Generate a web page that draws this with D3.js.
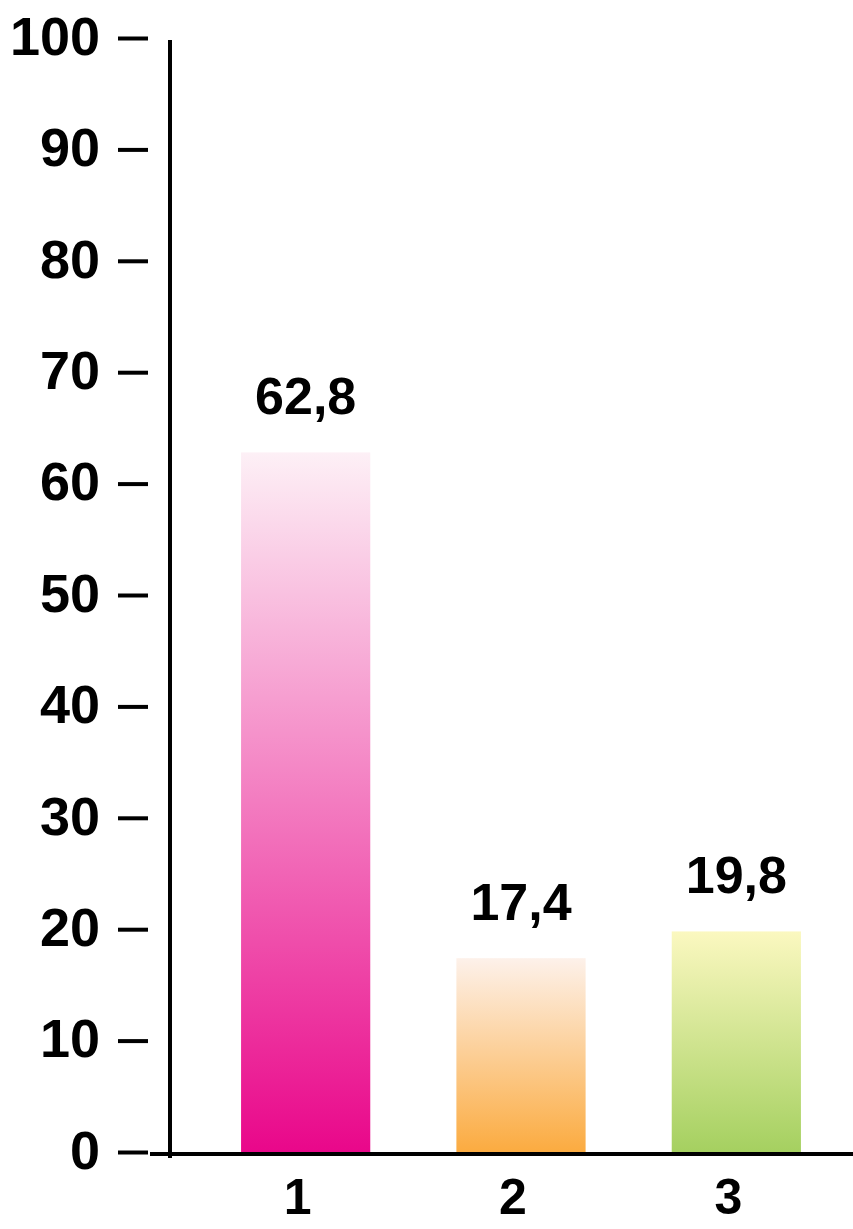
<!DOCTYPE html>
<html>
<head>
<meta charset="utf-8">
<style>
  body { margin: 0; background: #fff; }
  text { font-family: "Liberation Sans", Arial, sans-serif; font-weight: bold; fill: #000; }
</style>
</head>
<body>
<script src="https://d3js.org/d3.v7.min.js"></script>
<svg id="chart" width="853" height="1229"></svg>
<script>
    var categories = ["1", "2", "3"];
    var values = [62.8, 17.4, 19.8];
    var valueLabels = ["62,8", "17,4", "19,8"];
    var yTicks = [0, 10, 20, 30, 40, 50, 60, 70, 80, 90, 100];
    var topColors = ["#fdf0f6", "#fdf1ea", "#fbf8c0"];
    var bottomColors = ["#e9078a", "#fbab40", "#a5d060"];

    var svg = d3.select("#chart");

    var yScale = d3.scaleLinear().domain([0, 100]).range([1152, 38]);
    var xScale = d3.scaleBand().domain(categories).range([170, 872])
        .paddingInner(0.4).paddingOuter(0.33);

    // gradients, light at top, saturated at bottom
    var defs = svg.append("defs");
    categories.forEach(function(c, i) {
        var g = defs.append("linearGradient").attr("id", "grad" + i)
            .attr("x1", 0).attr("y1", 0).attr("x2", 0).attr("y2", 1);
        g.append("stop").attr("offset", "0%").attr("stop-color", topColors[i]);
        g.append("stop").attr("offset", "100%").attr("stop-color", bottomColors[i]);
    });

    svg.selectAll("rect.bar")
        .data(values)
        .enter().append("rect")
        .attr("class", "bar")
        .attr("x", (d, i) => xScale(categories[i]))
        .attr("width", xScale.bandwidth())
        .attr("y", d => yScale(d))
        .attr("height", d => yScale(0) - yScale(d))
        .style("fill", (d, i) => "url(#grad" + i + ")");

    svg.selectAll("text.val")
        .data(values)
        .enter().append("text")
        .attr("class", "val")
        .attr("x", (d, i) => xScale(categories[i]) + xScale.bandwidth() / 2)
        .attr("y", d => yScale(d) - 38)
        .attr("text-anchor", "middle")
        .style("font-size", "52px")
        .text((d, i) => valueLabels[i]);

    // y ticks sit apart from the axis line
    var yAxis = d3.axisLeft(yScale).tickValues(yTicks).tickSize(30).tickPadding(18);
    var yg = svg.append("g").attr("transform", "translate(148,0)").call(yAxis);
    yg.select(".domain").remove();
    yg.selectAll(".tick line").attr("stroke", "#000").attr("stroke-width", 4);
    yg.selectAll(".tick text").style("font-size", "54px").attr("dy", "0.3em");

    svg.append("line")
        .attr("x1", 170).attr("x2", 170)
        .attr("y1", yScale(100) + 2).attr("y2", yScale(0) + 6)
        .attr("stroke", "#000").attr("stroke-width", 4);

    svg.append("line")
        .attr("x1", 150).attr("x2", 853)
        .attr("y1", yScale(0) + 2).attr("y2", yScale(0) + 2)
        .attr("stroke", "#000").attr("stroke-width", 4);

    var xAxis = d3.axisBottom(xScale).tickSize(0).tickPadding(24);
    var xg = svg.append("g").attr("transform", "translate(-8," + (yScale(0) + 2) + ")").call(xAxis);
    xg.select(".domain").remove();
    xg.selectAll(".tick text").style("font-size", "50px");
</script>
</body>
</html>
